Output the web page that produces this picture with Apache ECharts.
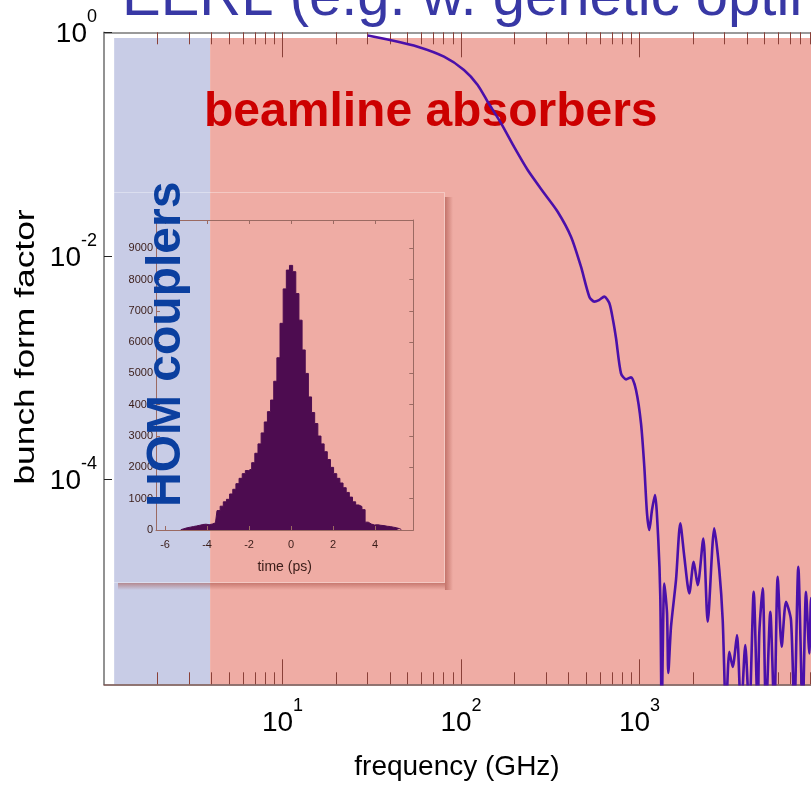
<!DOCTYPE html>
<html><head><meta charset="utf-8">
<script src="https://cdn.jsdelivr.net/npm/echarts@6/dist/echarts.min.js"></script>
<style>html,body{margin:0;padding:0;background:#fff}#c{width:811px;height:785px}</style>
</head><body><div id="c"></div>
<script>
// ---- data ----
const freqGHz = [30.0, 40.0, 57.2, 80.3, 103.9, 124.0, 141.1, 167.5, 198.1, 236.4, 291.7, 348.0, 413.3, 470.1, 523.4, 558.3, 593.2, 635.0, 677.3, 710.4, 738.4, 787.7, 840.4, 896.4, 956.0, 1019.6, 1063.9, 1101.6, 1134.8, 1174.9, 1221.3, 1274.4, 1307.7, 1331.6, 1376.9, 1426.0, 1450.0, 1501.6, 1601.5, 1692.9, 1782.4, 1901.1, 2012.0, 2119.0, 2277.4, 2410.7, 2624.2, 2799.6, 2925.0, 3052.0, 3185.0, 3327.6, 3517.5, 3703.5, 3913.7, 4121.0, 4363.0, 4594.5, 4690, 4899, 5113, 5405, 5691, 5945, 6260, 6618, 7058, 7366, 7756, 8209, 8566, 8942, 9139, 9745];
const formFactor = [0.936, 0.853, 0.743, 0.605, 0.460, 0.338, 0.239, 0.154, 0.0947, 0.0586, 0.0365, 0.0248, 0.01483, 0.00799, 0.00431, 0.00389, 0.00402, 0.00431, 0.00378, 0.00267, 0.00184, 0.000888, 0.000785, 0.000818, 0.00063, 0.000317, 0.00013, 4.96e-5, 3.52e-5, 5.31e-5, 7.24e-5, 2.86e-5, 8.9e-6, 8e-7, 1.17e-5, 6.36e-6, 1.85e-6, 4.8e-6, 1.26e-5, 4.04e-5, 2.03e-5, 9.55e-6, 1.83e-5, 1.13e-5, 2.96e-5, 5.32e-6, 3.64e-5, 1.54e-5, 5.51e-6, 8e-7, 2.87e-6, 2.1e-6, 4.04e-6, 8e-7, 3.29e-6, 8e-7, 9.87e-6, 8e-7, 4.21e-6, 1.06e-5, 8e-7, 6.53e-6, 8e-7, 1.34e-5, 3.18e-6, 8.03e-6, 5.51e-6, 8e-7, 1.65e-5, 8e-7, 9.87e-6, 2.77e-6, 8.67e-6, 8e-7];

const histTime = [-5.25,-5.1,-4.95,-4.8,-4.65,-4.5,-4.35,-4.2,-4.05,-3.9,-3.75,-3.6,-3.45,-3.3,-3.15,-3.0,-2.85,-2.7,-2.55,-2.4,-2.25,-2.1,-1.95,-1.8,-1.65,-1.5,-1.35,-1.2,-1.05,-0.9,-0.75,-0.6,-0.45,-0.3,-0.15,0,0.15,0.3,0.45,0.6,0.75,0.9,1.05,1.2,1.35,1.5,1.65,1.8,1.95,2.1,2.25,2.4,2.55,2.7,2.85,3.0,3.15,3.3,3.45,3.6,3.75,3.9,4.05,4.2,4.35,4.5,4.65,4.8,4.95,5.1,5.25];
const histCounts = [10,40,70,90,110,130,150,175,185,170, 190,230,620,760,900,980,1150,1300,1480,1650, 1800,1900,1950,2150,2450,2750,3100,3450,3780,4150, 4750,5500,6600,7700,8300,8450,8250,7550,6700,5750, 5000,4250,3750,3400,3000,2750,2500,2250,2000,1800, 1650,1500,1350,1200,1050,900,800,750,650,250, 190,160,170,150,140,120,110,90,70,40, 15];

const xMajorTicks = [10, 100, 1000];
const yMajorTicks = [1e-4, 1e-2, 1];
const insetXTicks = [-6, -4, -2, 0, 2, 4];
const insetYTicks = [0, 1000, 2000, 3000, 4000, 5000, 6000, 7000, 8000, 9000];
const regionNames = ['HOM couplers', 'beamline absorbers'];
const regionFrom = [1.14, 3.93];
const regionTo = [3.93, 10000];

const xMin = 1, xMax = 10000, yMin = 1.466e-6, yMax = 1, regionTop = 0.89;
const insetXMin = -6.43, insetXMax = 5.82, insetYMin = 0, insetYMax = 9900;

// minor ticks of the log axis (2..9 in each decade)
const xMinorTicks = [];
[1, 10, 100, 1000].forEach(d => { for (let k = 2; k <= 9; k++) xMinorTicks.push(k * d); });

const NARROW = "'Liberation Sans Narrow','Arial Narrow','Liberation Sans',Arial,sans-serif";
const SANS = "'Liberation Sans',Arial,Helvetica,sans-serif";

const powRich = {
  b: {fontSize: 28, fontFamily: NARROW, color: '#000', lineHeight: 40, verticalAlign: 'bottom'},
  e: {fontSize: 18, fontFamily: NARROW, color: '#000', lineHeight: 14, verticalAlign: 'top'}
};
const powFmt = v => '{b|10}{e|' + Math.round(Math.log10(v)) + '}';
const plainFmt = v => String(v);

const tickRed = '#8a4038';

function logX(pos, major, showLine, lineColor) {
  return {
    type: 'log', logBase: 10, min: xMin, max: xMax, gridIndex: 0, position: pos, z: 3,
    axisLine: {show: showLine, onZero: false, lineStyle: {color: lineColor, width: 1.5}},
    axisTick: {show: true, inside: true, length: major ? 25 : 12,
      customValues: major ? xMajorTicks : xMinorTicks, lineStyle: {color: tickRed, width: 1}},
    axisLabel: (major && pos === 'bottom') ? {show: true, customValues: xMajorTicks, margin: 13,
      formatter: powFmt, rich: powRich} : {show: false},
    splitLine: {show: false}, minorTick: {show: false}, minorSplitLine: {show: false}
  };
}

const xAxes = [
  Object.assign(logX('bottom', true, true, '#6e4a46'), {
    name: 'frequency (GHz)', nameLocation: 'middle', nameGap: 69,
    nameTextStyle: {fontSize: 28, fontFamily: SANS, color: '#000', padding: [0, 8, 0, 0]}
  }),
  logX('bottom', false, false, '#6e4a46'),
  logX('top', true, true, '#7a7a7a'),
  logX('top', false, false, '#7a7a7a'),
  // inset axes
  {
    type: 'value', gridIndex: 1, min: insetXMin, max: insetXMax, position: 'bottom', z: 4,
    axisLine: {show: true, onZero: false, lineStyle: {color: '#9b6a62', width: 1}},
    axisTick: {show: true, inside: true, length: 4, customValues: insetXTicks, lineStyle: {color: '#9b6a62'}},
    axisLabel: {customValues: insetXTicks, formatter: plainFmt, margin: 9, fontSize: 11, fontFamily: NARROW, color: '#3a1c18'},
    splitLine: {show: false},
    name: 'time (ps)', nameLocation: 'middle', nameGap: 30,
    nameTextStyle: {fontSize: 14, fontFamily: NARROW, color: '#3a1c18'}
  },
  {
    type: 'value', gridIndex: 1, min: insetXMin, max: insetXMax, position: 'top', z: 4,
    axisLine: {show: true, onZero: false, lineStyle: {color: '#9b6a62', width: 1}},
    axisTick: {show: true, inside: true, length: 4, customValues: insetXTicks, lineStyle: {color: '#9b6a62'}},
    axisLabel: {show: false}, splitLine: {show: false}
  }
];

const yAxes = [
  {
    type: 'log', logBase: 10, min: yMin, max: yMax, gridIndex: 0, position: 'left', z: 3,
    axisLine: {show: true, onZero: false, lineStyle: {color: '#6e6e6e', width: 1.5}},
    axisTick: {show: true, inside: true, length: 8, customValues: yMajorTicks, lineStyle: {color: '#222', width: 1}},
    axisLabel: {customValues: yMajorTicks, margin: 7, formatter: powFmt, rich: powRich, padding: [0, 0, 8, 0]},
    splitLine: {show: false}, minorTick: {show: false}
  },
  {
    type: 'value', gridIndex: 1, min: insetYMin, max: insetYMax, position: 'left', z: 4,
    axisLine: {show: true, onZero: false, lineStyle: {color: '#9b6a62', width: 1}},
    axisTick: {show: true, inside: true, length: 4, customValues: insetYTicks, lineStyle: {color: '#9b6a62'}},
    axisLabel: {customValues: insetYTicks, formatter: plainFmt, margin: 3, fontSize: 11, fontFamily: NARROW, color: '#3a1c18'},
    splitLine: {show: false}
  },
  {
    type: 'value', gridIndex: 1, min: insetYMin, max: insetYMax, position: 'right', z: 4,
    axisLine: {show: true, onZero: false, lineStyle: {color: '#9b6a62', width: 1}},
    axisTick: {show: true, inside: true, length: 4, customValues: insetYTicks, lineStyle: {color: '#9b6a62'}},
    axisLabel: {show: false}, splitLine: {show: false}
  }
];

const regionColors = ['#c8cce6', '#efaca4'];
const regionAreas = regionNames.map((n, i) => [
  {name: n, xAxis: regionFrom[i], yAxis: yMin, itemStyle: {color: regionColors[i], opacity: 1}},
  {xAxis: regionTo[i], yAxis: regionTop}
]);

const chart = echarts.init(document.getElementById('c'), null, {renderer: 'canvas'});
chart.setOption({
  animation: false,
  backgroundColor: '#fff',
  grid: [
    {left: 104, top: 32.3, right: -7, bottom: 100.7, containLabel: false, outerBoundsMode: 'none'},
    {left: 156, top: 220, width: 257.3, height: 310, containLabel: false, outerBoundsMode: 'none'}
  ],
  xAxis: xAxes,
  yAxis: yAxes,
  series: [
    {
      type: 'line', xAxisIndex: 0, yAxisIndex: 0, data: [], z: 1, silent: true,
      markArea: {silent: true, label: {show: false}, itemStyle: {opacity: 1, borderWidth: 0}, data: regionAreas}
    },
    {
      type: 'line', name: 'bunch form factor', xAxisIndex: 0, yAxisIndex: 0, z: 6,
      data: freqGHz.map((f, i) => [f, formFactor[i]]),
      showSymbol: false, smooth: 0.25, clip: true,
      lineStyle: {color: '#4a10aa', width: 2.6}
    },
    {
      type: 'line', name: 'histogram', xAxisIndex: 4, yAxisIndex: 1, z: 4,
      data: histTime.map((t, i) => [t, histCounts[i]]),
      step: 'middle', showSymbol: false,
      lineStyle: {color: '#4d0c50', width: 1},
      areaStyle: {color: '#4d0c50', opacity: 1}
    }
  ],
  graphic: [
    {type: 'rect', z: 2, silent: true, shape: {x: 445, y: 197, width: 8, height: 393},
      style: {fill: {type: 'linear', x: 0, y: 0, x2: 1, y2: 0, colorStops: [
        {offset: 0, color: 'rgba(160,70,60,0.55)'}, {offset: 1, color: 'rgba(160,70,60,0)'}]}}},
    {type: 'rect', z: 2, silent: true, shape: {x: 118, y: 583, width: 327, height: 7},
      style: {fill: {type: 'linear', x: 0, y: 0, x2: 0, y2: 1, colorStops: [
        {offset: 0, color: 'rgba(160,70,60,0.5)'}, {offset: 1, color: 'rgba(160,70,60,0)'}]}}},
    {type: 'rect', z: 2, silent: true, shape: {x: 113.5, y: 192.5, width: 331, height: 390},
      style: {fill: 'none', stroke: 'rgba(255,255,255,0.35)', lineWidth: 1}},
    {type: 'text', z: 5, silent: true, x: 122, y: -1,
      style: {text: 'EERL (e.g. w. genetic optimization)', font: '58px ' + SANS, fill: '#3838a5', align: 'left', verticalAlign: 'middle'}},
    {type: 'text', z: 5, silent: true, x: 204, y: 113,
      style: {text: regionNames[1], font: 'bold 48px ' + SANS, fill: '#cc0000', align: 'left', verticalAlign: 'middle'}},
    {type: 'text', z: 7, silent: true, x: 167, y: 507, rotation: Math.PI / 2,
      style: {text: regionNames[0], font: 'bold 48px ' + SANS, fill: '#0b3f9f', align: 'left', verticalAlign: 'middle'}},
    {type: 'text', z: 5, silent: true, x: 27, y: 347, rotation: Math.PI / 2, scaleX: 1.31,
      style: {text: 'bunch form factor', font: '27px ' + SANS, fill: '#000', align: 'center', verticalAlign: 'middle'}}
  ]
});
</script></body></html>
